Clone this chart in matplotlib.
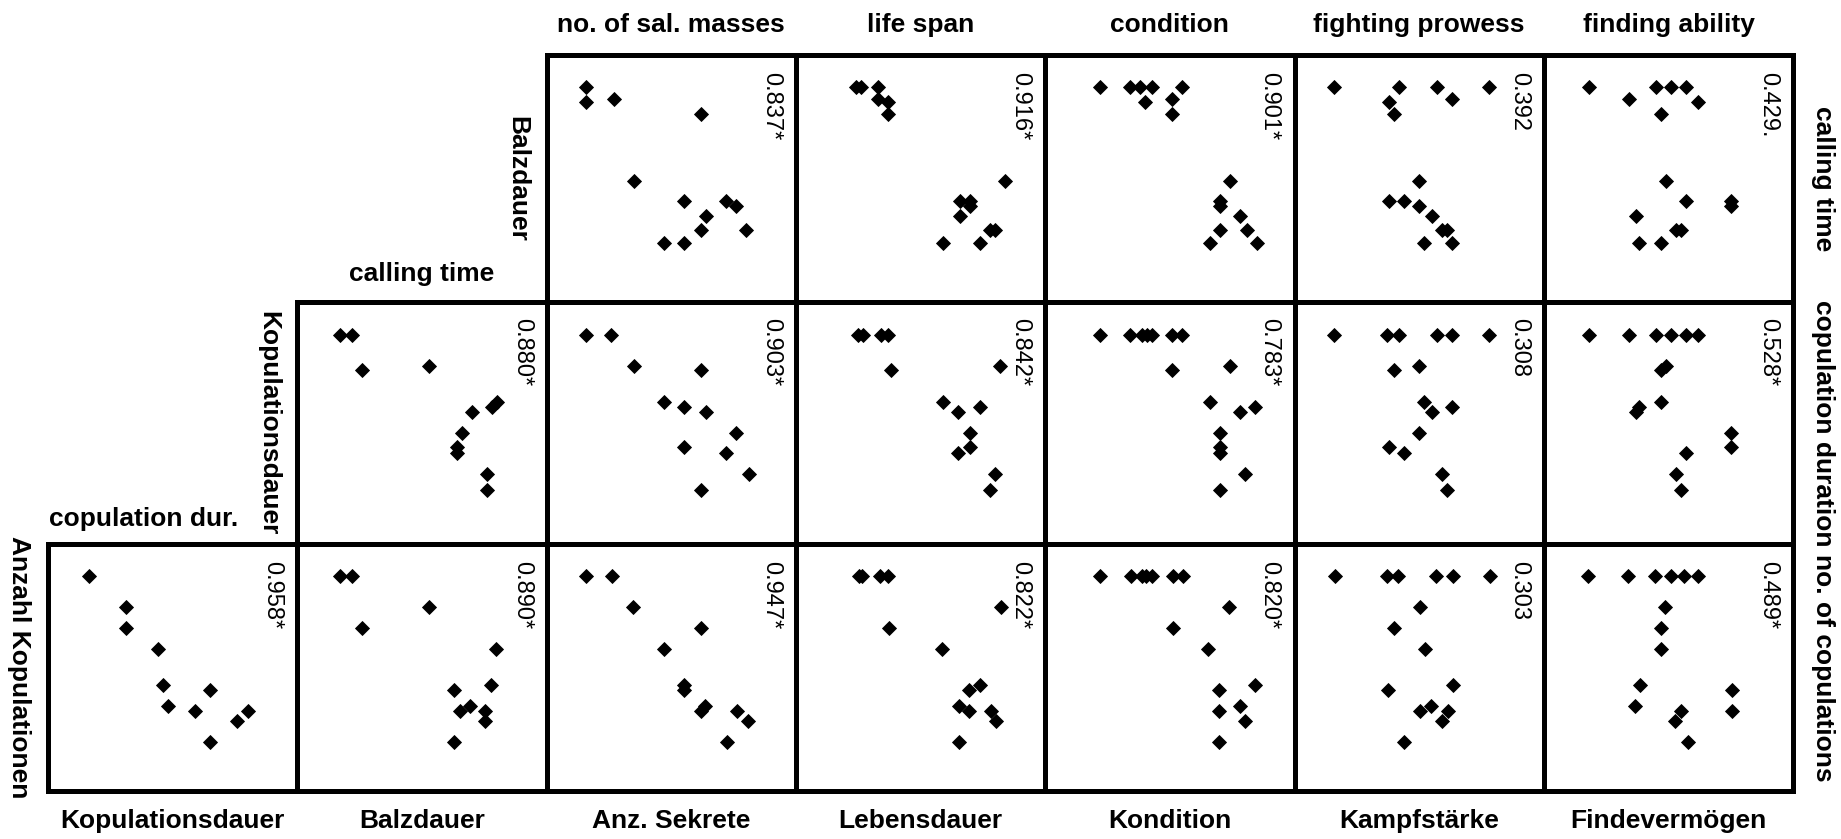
import matplotlib
matplotlib.use("Agg")
import matplotlib.pyplot as plt

plt.rcParams['font.family'] = ['Liberation Sans', 'DejaVu Sans']

# variable names along the bottom (x variables, left to right)
col_labels = ['Kopulationsdauer', 'Balzdauer', 'Anz. Sekrete', 'Lebensdauer',
              'Kondition', 'Kampfstärke', 'Findevermögen']
# english names above the columns 3..7
top_labels = ['no. of sal. masses', 'life span', 'condition',
              'fighting prowess', 'finding ability']
# y variables of the three rows
row_labels_de = ['Balzdauer', 'Kopulationsdauer', 'Anzahl Kopulationen']
row_labels_en = ['calling time', 'copulation duration', 'no. of copulations']

# correlation coefficients per row (first panel of a row is the leftmost one)
r_balz = ['0.837*', '0.916*', '0.901*', '0.392', '0.429.']
r_kop = ['0.880*', '0.903*', '0.842*', '0.783*', '0.308', '0.528*']
r_anz = ['0.958*', '0.890*', '0.947*', '0.822*', '0.820*', '0.303', '0.489*']

# scores (0-100), pairs of (x variable, y variable)
# row 1: Balzdauer
balz_sekrete = [(16, 13), (16, 19), (27, 18), (62, 24), (35, 51), (55, 59), (72, 59),
                (76, 61), (64, 65), (62, 71), (80, 71), (47, 76), (55, 76)]
balz_leben = [(24, 13), (26, 13), (33, 13), (33, 18), (37, 19), (37, 24), (84, 51),
              (66, 59), (70, 59), (70, 61), (66, 65), (78, 71), (80, 71), (59, 76), (74, 76)]
balz_kondition = [(22, 13), (34, 13), (38, 13), (43, 13), (55, 13), (40, 19), (51, 18),
                  (51, 24), (74, 51), (70, 59), (70, 61), (78, 65), (70, 71), (81, 71),
                  (66, 76), (85, 76)]
balz_kampf = [(16, 13), (42, 13), (57, 13), (78, 13), (63, 18), (38, 19), (40, 24),
              (50, 51), (38, 59), (44, 59), (50, 61), (55, 65), (59, 71), (61, 71),
              (52, 76), (63, 76)]
balz_finde = [(18, 13), (34, 18), (45, 13), (51, 13), (57, 13), (62, 19), (47, 24),
              (49, 51), (57, 59), (75, 59), (75, 61), (37, 65), (53, 71), (55, 71),
              (38, 76), (47, 76)]

# row 2: Kopulationsdauer
kop_balz = [(17, 13.5), (22, 13.5), (26, 28.3), (53, 26.5), (70, 45.5), (78, 43.2),
            (80, 41.2), (66, 54), (64, 60), (64, 62.6), (76, 71), (76, 77.5)]
kop_sekrete = [(16, 13.5), (26, 13.5), (35, 26.5), (62, 28.3), (47, 41.2), (55, 43.2),
               (64, 45.5), (76, 54), (55, 60), (72, 62.6), (81, 71), (62, 77.5)]
kop_leben = [(25, 13.5), (27, 13.5), (34, 13.5), (37, 13.5), (82, 26.5), (38, 28.3),
             (59, 41.2), (74, 43.2), (65, 45.5), (70, 54), (70, 60), (65, 62.6),
             (80, 71), (78, 77.5)]
kop_kondition = [(22, 13.5), (34, 13.5), (39, 13.5), (41, 13.5), (43, 13.5), (51, 13.5),
                 (55, 13.5), (74, 26.5), (51, 28.3), (66, 41.2), (84, 43.2), (78, 45.5),
                 (70, 54), (70, 60), (70, 62.6), (80, 71), (70, 77.5)]
kop_kampf = [(16, 13.5), (37, 13.5), (42, 13.5), (57, 13.5), (63, 13.5), (78, 13.5),
             (50, 26.5), (40, 28.3), (52, 41.2), (63, 43.2), (55, 45.5), (50, 54),
             (38, 60), (44, 62.6), (59, 71), (61, 77.5)]
kop_finde = [(18, 13.5), (34, 13.5), (45, 13.5), (51, 13.5), (57, 13.5), (62, 13.5),
             (49, 26.5), (47, 28.3), (47, 41.2), (38, 43.2), (37, 45.5), (75, 54),
             (75, 60), (57, 62.6), (53, 71), (55, 77.5)]

# row 3: Anzahl Kopulationen
anz_kopdauer = [(16.5, 12.9), (31.4, 25.5), (31.4, 34.1), (44.1, 42.5), (46.2, 57.1),
                (65, 59.2), (48.3, 65.4), (58.8, 67.7), (80.2, 67.7), (75.7, 71.7),
                (65, 80.2)]
anz_balz = [(17.2, 12.9), (22.1, 12.9), (52.8, 25.5), (26.1, 34.1), (79.6, 42.5),
            (77.6, 57.1), (63, 59.2), (69.4, 65.4), (65.2, 67.7), (75.4, 67.7),
            (75.4, 71.7), (63, 80.2)]
anz_sekrete = [(15.7, 12.9), (26.3, 12.9), (34.8, 25.5), (62.1, 34.1), (47.2, 42.5),
               (55.3, 57.1), (55.3, 59.2), (63.4, 65.4), (62.1, 67.7), (76.4, 67.7),
               (80.8, 71.7), (72.2, 80.2)]
anz_leben = [(25.4, 12.9), (26.7, 12.9), (33.6, 12.9), (37.1, 12.9), (82.3, 25.5),
             (37.5, 34.1), (58.7, 42.5), (73.9, 57.1), (69.5, 59.2), (65.4, 65.4),
             (69.5, 67.7), (78.2, 67.7), (80.2, 71.7), (65.4, 80.2)]
anz_kondition = [(22, 12.9), (34.3, 12.9), (38.7, 12.9), (40.6, 12.9), (42.9, 12.9),
                 (51.1, 12.9), (55.4, 12.9), (73.8, 25.5), (51.1, 34.1), (65.5, 42.5),
                 (84.1, 57.1), (69.9, 59.2), (78, 65.4), (69.9, 67.7), (80.3, 71.7),
                 (69.9, 80.2)]
anz_kampf = [(16.1, 12.9), (37.2, 12.9), (41.6, 12.9), (56.9, 12.9), (63.4, 12.9),
             (78.4, 12.9), (50.5, 25.5), (40, 34.1), (52.5, 42.5), (63.4, 57.1),
             (37.5, 59.2), (54.8, 65.4), (50.5, 67.7), (61.4, 67.7), (59.3, 71.7),
             (43.9, 80.2)]
anz_finde = [(17.7, 12.9), (33.9, 12.9), (44.5, 12.9), (51.1, 12.9), (56.4, 12.9),
             (61.8, 12.9), (48.7, 25.5), (46.9, 34.1), (46.9, 42.5), (38.5, 57.1),
             (75.4, 59.2), (36.5, 65.4), (75.4, 67.7), (55, 67.7), (52.7, 71.7),
             (57.8, 80.2)]

rows = [
    (2, [balz_sekrete, balz_leben, balz_kondition, balz_kampf, balz_finde], r_balz),
    (1, [kop_balz, kop_sekrete, kop_leben, kop_kondition, kop_kampf, kop_finde], r_kop),
    (0, [anz_kopdauer, anz_balz, anz_sekrete, anz_leben, anz_kondition, anz_kampf,
         anz_finde], r_anz),
]

W, H = 1841, 839
fig = plt.figure(figsize=(W / 100, H / 100), dpi=100)
fig.patch.set_facecolor('white')

# grid geometry in pixels
col_x0 = 48
col_w = 249.3
row_top = [55, 302, 544]
row_bot = [302, 544, 791]


def fx(px):
    return px / W


def fy(py):
    return 1 - py / H


label_font = dict(fontsize=19, fontweight='bold')

for r, (first_col, panels, coefs) in enumerate(rows):
    for k, pts in enumerate(panels):
        c = first_col + k
        left = col_x0 + c * col_w
        ax = fig.add_axes([fx(left), fy(row_bot[r]), col_w / W,
                           (row_bot[r] - row_top[r]) / H])
        xs = [p[0] for p in pts]
        ys = [p[1] for p in pts]
        ax.plot(xs, ys, linestyle='none', marker='D', ms=7.0, color='black',
                markeredgewidth=0.6)
        ax.set_xlim(0, 100)
        ax.set_ylim(100, 0)
        ax.set_xticks([])
        ax.set_yticks([])
        for sp in ax.spines.values():
            sp.set_linewidth(3.6)
        ax.text(0.90, 0.932, coefs[k], transform=ax.transAxes, rotation=-90,
                ha='center', va='top', fontsize=17)

    # german row name on the left, english one on the right
    yc = (row_top[r] + row_bot[r]) / 2
    fig.text(fx(col_x0 + first_col * col_w - 29), fy(yc), row_labels_de[r],
             rotation=-90, ha='center', va='center', **label_font)
    fig.text(fx(1823), fy(yc), row_labels_en[r], rotation=-90,
             ha='center', va='center', **label_font)

# column names below and above
for c, name in enumerate(col_labels):
    fig.text(fx(col_x0 + (c + 0.5) * col_w), fy(821), name,
             ha='center', va='center', **label_font)
for k, name in enumerate(top_labels):
    fig.text(fx(col_x0 + (k + 2.5) * col_w), fy(25), name,
             ha='center', va='center', **label_font)
fig.text(fx(col_x0 + 1.5 * col_w), fy(274), 'calling time',
         ha='center', va='center', **label_font)
fig.text(fx(144), fy(519), 'copulation dur.', ha='center', va='center', **label_font)

fig.savefig('out.png', dpi=100, facecolor='white')
